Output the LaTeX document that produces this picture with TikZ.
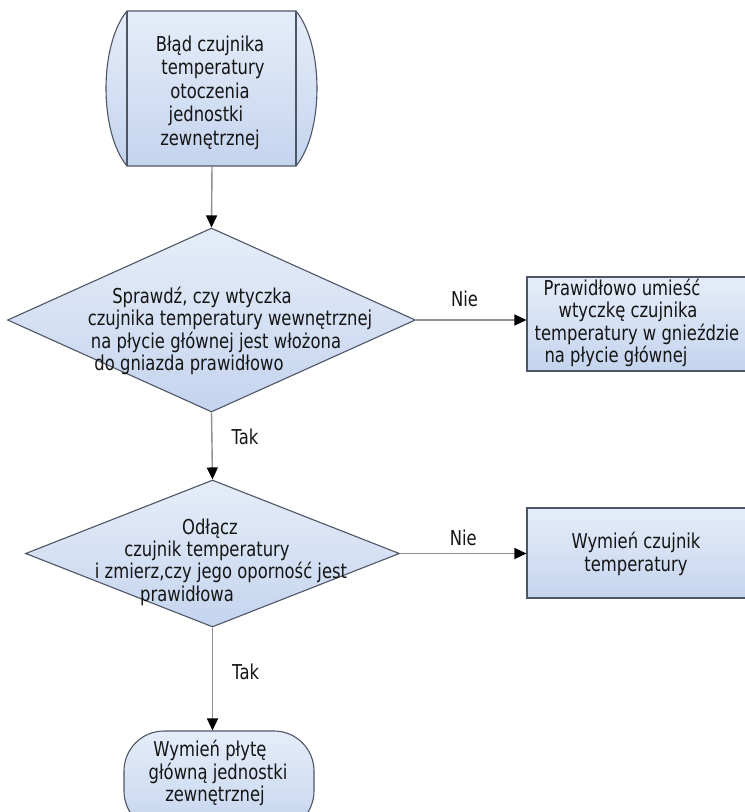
\documentclass[tikz,border=0pt]{standalone}
\usepackage{fontspec}
\newfontfamily\flowfont{DejaVu Sans}[FakeStretch=0.8]
\usetikzlibrary{shapes.geometric,arrows.meta}
\definecolor{edgeline}{HTML}{4E5564}
\definecolor{fillTop}{HTML}{E6EDF9}
\definecolor{fillBot}{HTML}{C4D4EE}
\definecolor{linkgrey}{HTML}{8E8E8E}
\definecolor{inkdark}{HTML}{151515}
\begin{document}
\begin{tikzpicture}[x=1pt,y=-1pt,
  shapefill/.style={draw=edgeline, line width=1.1pt, top color=fillTop, bottom color=fillBot},
  decision/.style={shapefill, diamond, inner sep=0pt},
  actionbox/.style={shapefill, rectangle, inner sep=0pt},
  endcap/.style={shapefill, rectangle, rounded corners=40pt, inner sep=0pt},
  txt/.style={font=\flowfont\fontsize{20.5}{22.4}\selectfont, text=inkdark, align=center, inner sep=0pt},
  lbl/.style={font=\flowfont\fontsize{20.5}{22.4}\selectfont, text=inkdark, inner sep=0pt},
  link/.style={draw=linkgrey, line width=1.4pt, -{Triangle[length=12pt,width=11pt,black]}}
]
\useasboundingbox (0,0) rectangle (745,812);
\clip (0,0) rectangle (745,812);

% start: box with bulging side caps
\node[inner sep=0pt, minimum width=211pt, minimum height=155pt] (start) at (211.5,88.5) {};
\path[shapefill] (127,11) -- (296,11) .. controls (324,45) and (324,132) .. (296,166)
  -- (127,166) .. controls (99,132) and (99,45) .. (127,11) -- cycle;
\draw[edgeline, line width=1.1pt] (127,11) -- (127,166) (296,11) -- (296,166);
\node[txt, font=\flowfont\fontsize{20.5}{23.5}\selectfont] (starttext) at (210,92.5) {Błąd czujnika\\\hspace*{6pt}temperatury\\otoczenia\\\hspace*{-8pt}jednostki\\zewnętrznej};

% first decision
\node[decision, minimum width=408pt, minimum height=184pt] (check1) at (211.5,320) {};
\node[txt] (check1text) at (211,331) {\hspace*{-18pt}Sprawdź, czy wtyczka\\\hspace*{38pt}czujnika temperatury wewnętrznej\\\hspace*{10pt}na płycie głównej jest włożona\\\hspace*{-44pt}do gniazda prawidłowo};

% fix plug
\node[actionbox, minimum width=233pt, minimum height=94pt] (fixplug) at (643.5,324) {};
\node[txt] (fixplugtext) at (626,323) {\hspace*{-8pt}Prawidłowo umieść\\\hspace*{4pt}wtyczkę czujnika\\\hspace*{22pt}temperatury w gnieździe\\\hspace*{-20pt}na płycie głównej};

% second decision
\node[decision, minimum width=374pt, minimum height=147pt] (check2) at (212.5,553.5) {};
\node[txt] (check2text) at (214,562) {\hspace*{-8pt}Odłącz\\\hspace*{-14pt}czujnik temperatury\\\hspace*{14pt}i zmierz,czy jego oporność jest\\\hspace*{-54pt}prawidłowa};

% replace sensor
\node[actionbox, minimum width=233pt, minimum height=90pt] (swapsensor) at (643.5,553) {};
\node[txt] (swapsensortext) at (636,554) {Wymień czujnik\\temperatury};

% end: replace main board
\node[endcap, minimum width=190pt, minimum height=100pt] (finish) at (219,781) {};
\node[txt] (finishtext) at (215,773) {\hspace*{-10pt}Wymień płytę\\\hspace*{6pt}główną jednostki\\zewnętrznej};

% connectors
\draw[link] (start.south -| 212,0) -- (check1.north);
\draw[link] (check1.east) -- node[lbl, pos=0.44, yshift=21pt] (no1) {Nie} (check1.east -| fixplug.west);
\draw[link] (check1.south) -- node[lbl, pos=0.37, anchor=west, xshift=19pt] (yes1) {Tak} (check2.north);
\draw[link] (check2.east) -- node[lbl, pos=0.5, yshift=16pt] (no2) {Nie} (check2.east -| swapsensor.west);
\draw[link] (check2.south) -- node[lbl, pos=0.43, anchor=west, xshift=19pt] (yes2) {Tak} (check2.south |- finish.north);
\end{tikzpicture}
\end{document}
